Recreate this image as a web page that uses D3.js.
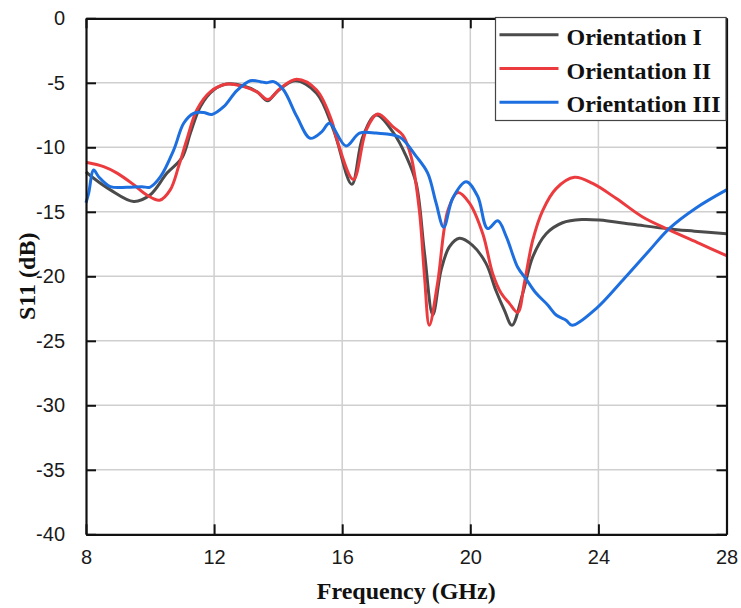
<!DOCTYPE html>
<html>
<head>
<meta charset="utf-8">
<script src="https://cdn.jsdelivr.net/npm/d3@7"></script>
<style>
  body { margin: 0; background: #fff; }
  svg { display: block; }
</style>
</head>
<body>
<div id="chart"></div>
<script>
const width = 741, height = 608;
const margin = { top: 18.3, right: 14.5, bottom: 73.7, left: 86 };

// S11 traces, frequency in GHz and reflection in dB
var freqI = [8, 8.24, 8.76, 9.49, 10.0, 10.53, 11.0, 11.26, 11.57, 11.98, 12.4, 12.92, 13.34, 13.67, 13.96, 14.53, 15.2, 15.73,
    16.3, 16.64, 17.06, 17.58, 18.0, 18.31, 18.57, 18.83, 19.09, 19.35, 19.66, 20.07, 20.49, 20.8, 21.06, 21.3,
    21.64, 21.95, 22.37, 22.88, 23.5, 24.03, 25.07, 26.21, 27.0, 28];
var s11I = [-11.9, -12.4, -13.3, -14.2, -13.7, -12.0, -10.8, -8.9, -6.85, -5.56, -5.1, -5.25, -5.7, -6.4, -5.7, -4.84, -5.8, -8.66,
    -12.87, -9.2, -7.5, -8.8, -10.7, -12.8, -18.2, -23.0, -19.5, -17.7, -17.05, -17.6, -19.0, -21.1, -22.6, -23.8,
    -21.3, -18.5, -16.7, -15.85, -15.6, -15.64, -15.97, -16.33, -16.5, -16.7];

var freqII = [8, 8.55, 8.97, 9.49, 9.9, 10.3, 10.63, 10.89, 11.15, 11.46, 11.88, 12.4, 12.92, 13.34, 13.68, 14.07, 14.58, 15.2, 15.68,
    15.81, 16.35, 16.75, 17.11, 17.58, 17.89, 18.15, 18.41, 18.57, 18.72, 18.98, 19.3, 19.61, 19.97, 20.39, 20.7, 20.96, 21.22, 21.48,
    21.69, 21.95, 22.26, 22.68, 23.25, 23.82, 24.55, 25.38, 26.21, 27.15, 28];
var s11II = [-11.16, -11.5, -12.0, -12.9, -13.7, -14.1, -13.3, -11.5, -9.4, -7.1, -5.7, -5.1, -5.3, -5.7, -6.3, -5.43, -4.73, -5.56, -8.0,
    -9.2, -12.5, -8.66, -7.42, -8.4, -9.05, -10.7, -14.9, -20.0, -23.8, -20.5, -14.9, -13.5, -14.3, -16.7, -19.8, -21.3, -22.1, -22.8,
    -20.5, -17.2, -14.9, -13.2, -12.33, -12.8, -13.95, -15.4, -16.4, -17.45, -18.4];

var freqIII = [8, 8.08, 8.24, 8.4, 8.76, 9.28, 9.75, 9.99, 10.32, 10.74, 11.05, 11.36, 11.67, 11.93, 12.3, 12.71, 13.13, 13.44, 13.63, 13.86,
    14.17, 14.58, 15.0, 15.36, 15.6, 16.12, 16.54, 17.06, 17.79, 18.31, 18.67, 18.93, 19.17, 19.45, 19.87, 20.23, 20.54, 20.86,
    21.12, 21.48, 21.74, 22.05, 22.41, 22.68, 22.99, 23.18, 23.93, 24.76, 25.59, 26.21, 27.05, 28];
var s11III = [-14.3, -13.6, -11.76, -12.3, -13.05, -13.1, -13.05, -13.1, -12.3, -10.2, -8.14, -7.37, -7.3, -7.45, -6.85, -5.6, -4.84, -4.91, -4.99, -4.91,
    -5.56, -7.6, -9.3, -8.8, -8.14, -9.9, -8.9, -8.9, -9.2, -10.7, -12.0, -14.3, -16.2, -13.95, -12.67, -13.8, -16.3, -15.7,
    -16.9, -19.3, -20.2, -21.3, -22.2, -23.0, -23.4, -23.8, -22.5, -20.3, -18.0, -16.3, -14.7, -13.3];

var seriesNames = ["Orientation I", "Orientation II", "Orientation III"];
var seriesColors = ["#4b4b4b", "#ec3b3e", "#1d6fe0"];
var xTicks = [8, 12, 16, 20, 24, 28];
var yTicks = [0, -5, -10, -15, -20, -25, -30, -35, -40];

var series = [
    { name: seriesNames[0], color: seriesColors[0], pts: freqI.map((f, i) => [f, s11I[i]]) },
    { name: seriesNames[1], color: seriesColors[1], pts: freqII.map((f, i) => [f, s11II[i]]) },
    { name: seriesNames[2], color: seriesColors[2], pts: freqIII.map((f, i) => [f, s11III[i]]) }
];

var x = d3.scaleLinear().domain([8, 28]).range([margin.left, width - margin.right]);
var y = d3.scaleLinear().domain([-40, 0]).range([height - margin.bottom, margin.top]);

var svg = d3.select("#chart").append("svg")
    .attr("width", width)
    .attr("height", height);

// grid
svg.append("g").selectAll("line.gx")
    .data(xTicks.slice(1, -1))
    .enter().append("line")
    .attr("x1", d => x(d)).attr("x2", d => x(d))
    .attr("y1", y(0)).attr("y2", y(-40))
    .attr("stroke", "#cfcfcf").attr("stroke-width", 1.5);

svg.append("g").selectAll("line.gy")
    .data(yTicks.slice(1, -1))
    .enter().append("line")
    .attr("x1", x(8)).attr("x2", x(28))
    .attr("y1", d => y(d)).attr("y2", d => y(d))
    .attr("stroke", "#cfcfcf").attr("stroke-width", 1.5);

// curves
var line = d3.line()
    .x(d => x(d[0]))
    .y(d => y(d[1]))
    .curve(d3.curveCatmullRom.alpha(0.5));

svg.append("g")
    .selectAll("path")
    .data(series)
    .enter().append("path")
    .attr("d", d => line(d.pts))
    .attr("fill", "none")
    .attr("stroke", d => d.color)
    .attr("stroke-width", 3)
    .attr("stroke-linejoin", "round");

// axes, ticks pointing inward on all four sides
var tickSize = 10;
var plainFmt = d => String(d);   // keep an ASCII hyphen for negatives
var axisG = svg.append("g");

axisG.append("g")
    .attr("transform", "translate(0," + y(-40) + ")")
    .call(d3.axisBottom(x).tickValues(xTicks).tickFormat(plainFmt).tickSize(-tickSize).tickPadding(tickSize + 6).tickSizeOuter(0));
axisG.append("g")
    .attr("transform", "translate(0," + y(0) + ")")
    .call(d3.axisTop(x).tickValues(xTicks).tickSize(-tickSize).tickFormat("").tickSizeOuter(0));
axisG.append("g")
    .attr("transform", "translate(" + x(8) + ",0)")
    .call(d3.axisLeft(y).tickValues(yTicks).tickFormat(plainFmt).tickSize(-tickSize).tickPadding(tickSize + 11).tickSizeOuter(0));
axisG.append("g")
    .attr("transform", "translate(" + x(28) + ",0)")
    .call(d3.axisRight(y).tickValues(yTicks).tickSize(-tickSize).tickFormat("").tickSizeOuter(0));

axisG.selectAll(".domain").attr("stroke", "#111").attr("stroke-width", 2.2);
axisG.selectAll(".tick line").attr("stroke", "#111").attr("stroke-width", 2);
axisG.selectAll(".tick text")
    .attr("fill", "#1a1a1a")
    .attr("font-family", "'Liberation Sans', Arial, sans-serif")
    .attr("font-size", 20);

// axis titles
svg.append("text")
    .attr("x", (x(8) + x(28)) / 2)
    .attr("y", 599)
    .attr("text-anchor", "middle")
    .attr("font-family", "'Liberation Serif', 'Times New Roman', serif")
    .attr("font-weight", "bold")
    .attr("font-size", 24)
    .attr("fill", "#111")
    .text("Frequency (GHz)");

svg.append("text")
    .attr("transform", "translate(35," + (y(0) + y(-40)) / 2 + ") rotate(-90)")
    .attr("text-anchor", "middle")
    .attr("font-family", "'Liberation Serif', 'Times New Roman', serif")
    .attr("font-weight", "bold")
    .attr("font-size", 24)
    .attr("fill", "#111")
    .text("S11 (dB)");

// legend
var legend = svg.append("g").attr("transform", "translate(495.5,17.5)");
legend.append("rect")
    .attr("width", 230.5).attr("height", 103)
    .attr("fill", "#fff")
    .attr("stroke", "#444").attr("stroke-width", 1.2);

var item = legend.selectAll("g.item")
    .data(series)
    .enter().append("g")
    .attr("transform", (d, i) => "translate(0," + (17.2 + i * 33.8) + ")");

item.append("line")
    .attr("x1", 4).attr("x2", 63)
    .attr("stroke", d => d.color)
    .attr("stroke-width", 3);

item.append("text")
    .attr("x", 71)
    .attr("y", 10)
    .attr("font-family", "'Liberation Serif', 'Times New Roman', serif")
    .attr("font-weight", "bold")
    .attr("font-size", 24)
    .attr("fill", "#111")
    .text(d => d.name);
</script>
</body>
</html>
